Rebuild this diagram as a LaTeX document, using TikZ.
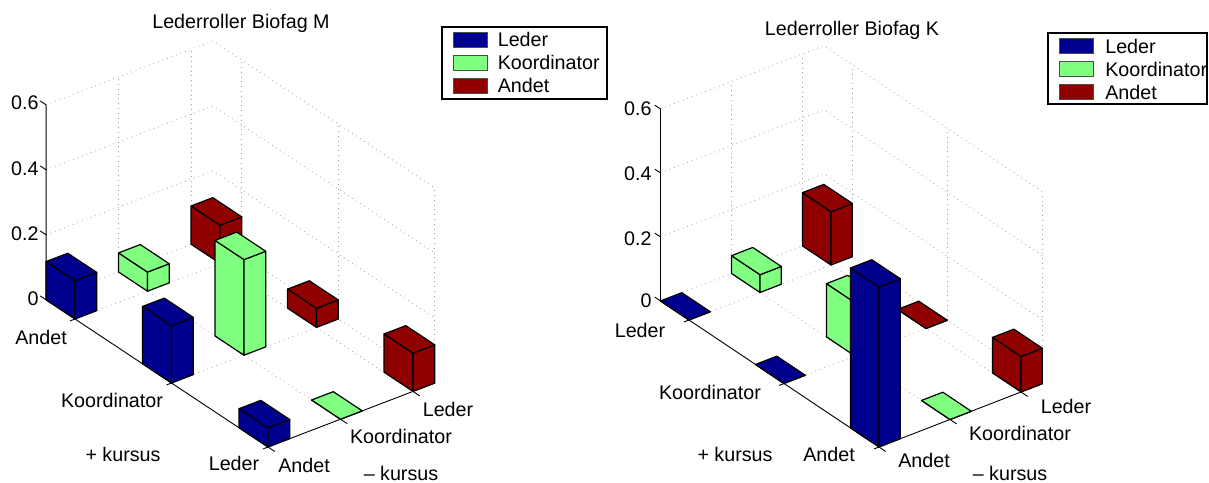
\documentclass[tikz,border=0pt]{standalone}
\usepackage{fontspec}
\setmainfont{Liberation Sans}
\usetikzlibrary{positioning}

\definecolor{lederblue}{RGB}{0,0,143}
\definecolor{koordgreen}{RGB}{128,255,128}
\definecolor{andetred}{RGB}{143,0,0}

% one bar: corner (u,v), height, colour
\newcommand{\barbox}[4]{%
  \filldraw[barface, fill=#4] (#1,#2,0) -- (#1,#2+0.3,0) -- (#1,#2+0.3,#3) -- (#1,#2,#3) -- cycle;
  \filldraw[barface, fill=#4] (#1,#2,0) -- (#1+0.3,#2,0) -- (#1+0.3,#2,#3) -- (#1,#2,#3) -- cycle;
  \filldraw[barface, fill=#4] (#1,#2,#3) -- (#1+0.3,#2,#3) -- (#1+0.3,#2+0.3,#3) -- (#1,#2+0.3,#3) -- cycle;
}

% walls, floor grid and axes of one plot
\newcommand{\plotframe}{%
  \foreach \h in {0,0.2,0.4,0.6}
    \draw[gridline] (0,2.3,\h) -- (2.3,2.3,\h) -- (2.3,0,\h);
  \foreach \t in {1,2} {
    \draw[gridline] (\t,2.3,0) -- (\t,2.3,0.6);
    \draw[gridline] (2.3,\t,0) -- (2.3,\t,0.6);
    \draw[gridline] (\t,0,0) -- (\t,2.3,0);
    \draw[gridline] (0,\t,0) -- (2.3,\t,0);
  }
  \draw[gridline] (2.3,0,0) -- (2.3,0,0.6);
  \draw[axisline] (0,2.3,0.6) -- (0,2.3,0) -- (0,0,0) -- (2.3,0,0);
  \foreach \h in {0,0.2,0.4,0.6}
    \draw[axisline] (0,2.3,\h) -- (0,2.36,\h);
  \foreach \t in {0,1,2} {
    \draw[axisline] (0,\t,0) -- (-0.07,\t,0);
    \draw[axisline] (\t,0,0) -- (\t,-0.07,0);
  }
}

\begin{document}
\begin{tikzpicture}[
        x=0.5pt, y=-0.5pt,
        font=\fontsize{9.85}{11.8}\selectfont,
        gridline/.style={gray!75, line width=0.4pt, dash pattern=on 0.4pt off 2pt},
        axisline/.style={black, line width=0.45pt},
        barface/.style={draw=black, line width=0.6pt, line join=round},
        lbl/.style={anchor=base, inner sep=0pt},
        zlbl/.style={anchor=base east, inner sep=0pt},
        legendbox/.style={draw, line width=0.6pt},
        swatch/.style={draw=black!70, line width=0.4pt, minimum width=17pt, minimum height=7.5pt, inner sep=0pt},
        legtext/.style={inner sep=0pt}
    ]
    \useasboundingbox (0,0) rectangle (1209,482);

    % Biofag M
    \begin{scope}[shift={(134pt,-223.5pt)}, x={(36.25pt,13.9pt)}, y={(-48.25pt,32pt)}, z={(0pt,162.5pt)}]
        \plotframe
        \barbox{2}{2}{2/17}{andetred}
        \barbox{1}{2}{1/17}{koordgreen}
        \barbox{2}{1}{1/17}{andetred}
        \barbox{0}{2}{2/17}{lederblue}
        \barbox{1}{1}{5/17}{koordgreen}
        \barbox{2}{0}{2/17}{andetred}
        \barbox{0}{1}{3/17}{lederblue}
        \barbox{1}{0}{0}{koordgreen}
        \barbox{0}{0}{1/17}{lederblue}
    \end{scope}

    \node[lbl] (titleM) at (241,28) {Lederroller Biofag M};
    \node[zlbl] (zM6) at (39,109.5) {0.6};
    \node[zlbl] (zM4) at (39,175) {0.4};
    \node[zlbl] (zM2) at (39,240) {0.2};
    \node[zlbl] (zM0) at (39,305) {0};
    \node[lbl] (andetLM) at (41,344) {Andet};
    \node[lbl] (koordLM) at (112,407) {Koordinator};
    \node[lbl] (lederLM) at (234,470) {Leder};
    \node[lbl] (plusM) at (123,461) {+ kursus};
    \node[lbl] (andetRM) at (304,472) {Andet};
    \node[lbl] (koordRM) at (401,443) {Koordinator};
    \node[lbl] (lederRM) at (448,416) {Leder};
    \node[lbl] (minusM) at (401,480) {– kursus};

    \draw[legendbox] (442,27) rectangle (607,99);
    \node[swatch, fill=lederblue] (swLederM) at (470,39.5) {};
    \node[swatch, fill=koordgreen] (swKoordM) at (470,62.5) {};
    \node[swatch, fill=andetred] (swAndetM) at (470,85.5) {};
    \node[legtext, right=5pt of swLederM] (legLederM) {Leder};
    \node[legtext, right=5pt of swKoordM] (legKoordM) {Koordinator};
    \node[legtext, right=5pt of swAndetM] (legAndetM) {Andet};

    % Biofag K
    \begin{scope}[shift={(439.5pt,-223.5pt)}, x={(35.5pt,13.75pt)}, y={(-47.5pt,31.75pt)}, z={(0pt,160pt)}]
        \plotframe
        \barbox{2}{2}{3/18}{andetred}
        \barbox{1}{2}{1/18}{koordgreen}
        \barbox{2}{1}{0}{andetred}
        \barbox{0}{2}{0}{lederblue}
        \barbox{1}{1}{3/18}{koordgreen}
        \barbox{2}{0}{2/18}{andetred}
        \barbox{0}{1}{0}{lederblue}
        \barbox{1}{0}{0}{koordgreen}
        \barbox{0}{0}{9/18}{lederblue}
    \end{scope}

    \node[lbl] (titleK) at (852,35) {Lederroller Biofag K};
    \node[zlbl] (zK6) at (652,115) {0.6};
    \node[zlbl] (zK4) at (652,180) {0.4};
    \node[zlbl] (zK2) at (652,245) {0.2};
    \node[zlbl] (zK0) at (652,307) {0};
    \node[lbl] (lederLK) at (640,337) {Leder};
    \node[lbl] (koordLK) at (710,399) {Koordinator};
    \node[lbl] (andetLK) at (829,461) {Andet};
    \node[lbl] (plusK) at (735,461) {+ kursus};
    \node[lbl] (andetRK) at (924,467) {Andet};
    \node[lbl] (koordRK) at (1020,440) {Koordinator};
    \node[lbl] (lederRK) at (1066,413) {Leder};
    \node[lbl] (minusK) at (1010,480) {– kursus};

    \draw[legendbox] (1048,33) rectangle (1207,104);
    \node[swatch, fill=lederblue] (swLederK) at (1076.5,46) {};
    \node[swatch, fill=koordgreen] (swKoordK) at (1076.5,69) {};
    \node[swatch, fill=andetred] (swAndetK) at (1076.5,92) {};
    \node[legtext, right=5.5pt of swLederK] (legLederK) {Leder};
    \node[legtext, right=5.5pt of swKoordK] (legKoordK) {Koordinator};
    \node[legtext, right=5.5pt of swAndetK] (legAndetK) {Andet};
\end{tikzpicture}
\end{document}
